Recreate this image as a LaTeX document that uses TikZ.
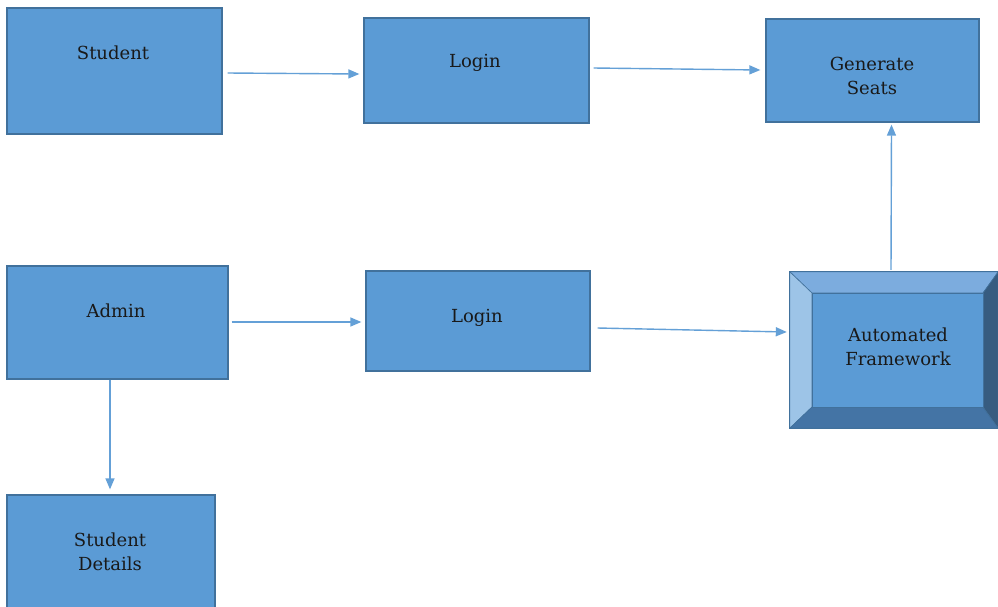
\documentclass[tikz,border=0pt]{standalone}
\usepackage{fontspec}
\setmainfont{DejaVu Serif}
\usetikzlibrary{arrows.meta}
\definecolor{boxfill}{RGB}{91,155,213}
\definecolor{boxline}{RGB}{65,113,156}
\definecolor{arrowcol}{RGB}{100,160,215}
\definecolor{bevtop}{RGB}{124,172,222}
\definecolor{bevleft}{RGB}{157,196,231}
\definecolor{bevbottom}{RGB}{68,116,165}
\definecolor{bevright}{RGB}{55,92,128}
\tikzset{
  box/.style={draw=boxline, line width=1.3pt, fill=boxfill, inner sep=0pt},
  lbl/.style={font=\fontsize{18}{24}\selectfont, align=center, text=black!90},
  arr/.style={draw=arrowcol, line width=1.4pt, -{Triangle[length=11pt,width=9pt]}},
  bevel/.style={draw=boxline, line width=0.6pt}
}
\begin{document}
\begin{tikzpicture}[x=1pt,y=-1pt]
\useasboundingbox (0,0) rectangle (998,606);
\fill[white] (0,0) rectangle (998,606);
\clip (0,0) rectangle (998,606);

% boxes
\node[box, minimum width=215pt, minimum height=126pt] (student) at (114.5,71) {};
\node[lbl] (tstudent) at (113,53) {Student};

\node[box, minimum width=225pt, minimum height=105pt] (login1) at (476.5,70.5) {};
\node[lbl] (tlogin1) at (475,63) {Login};

\node[box, minimum width=213pt, minimum height=103pt] (seats) at (872.5,70.5) {};
\node[lbl] (tseats) at (872,76) {Generate\\Seats};

\node[box, minimum width=221pt, minimum height=113pt] (admin) at (117.5,322.5) {};
\node[lbl] (tadmin) at (116,311) {Admin};

\node[box, minimum width=224pt, minimum height=100pt] (login2) at (478,321) {};
\node[lbl] (tlogin2) at (477,318) {Login};

\node[box, minimum width=208pt, minimum height=120pt] (details) at (111,555) {};
\node[lbl] (tdetails) at (110,552) {Student\\Details};

% bevelled frame
\node[inner sep=0pt, minimum width=208pt, minimum height=156pt] (af) at (894,350) {};
\coordinate (o1) at (af.north west);
\coordinate (o2) at (af.north east);
\coordinate (o3) at (af.south east);
\coordinate (o4) at (af.south west);
\coordinate (i1) at (812,293);
\coordinate (i2) at (983,293);
\coordinate (i3) at (983,407);
\coordinate (i4) at (812,407);
\filldraw[bevel, fill=bevtop] (o1) -- (o2) -- (i2) -- (i1) -- cycle;
\filldraw[bevel, fill=bevleft] (o1) -- (i1) -- (i4) -- (o4) -- cycle;
\filldraw[bevel, fill=bevbottom] (o4) -- (i4) -- (i3) -- (o3) -- cycle;
\filldraw[bevel, fill=bevright] (o2) -- (o3) -- (i3) -- (i2) -- cycle;
\filldraw[bevel, fill=boxfill] (i1) rectangle (i3);
\draw[draw=boxline, line width=1.3pt] (o1) rectangle (o3);
\node[lbl] (taf) at (898,347) {Automated\\Framework};

% connectors
\draw[arr] ([shift={(5,2)}]student.east) -- ([shift={(-4,3.5)}]login1.west);
\draw[arr] ([shift={(4,-2.5)}]login1.east) -- ([shift={(-5,-0.5)}]seats.west);
\draw[arr] ([shift={(3,-0.5)}]admin.east) -- ([shift={(-4,1)}]login2.west);
\draw[arr] ([shift={(7,7)}]login2.east) -- ([shift={(-3,-18)}]af.west);
\draw[arr] ([shift={(-3,-2)}]af.north) -- ([shift={(19,2)}]seats.south);
\draw[arr] (admin.south -| 110,0) -- ([shift={(-1,-5)}]details.north);
\end{tikzpicture}
\end{document}
